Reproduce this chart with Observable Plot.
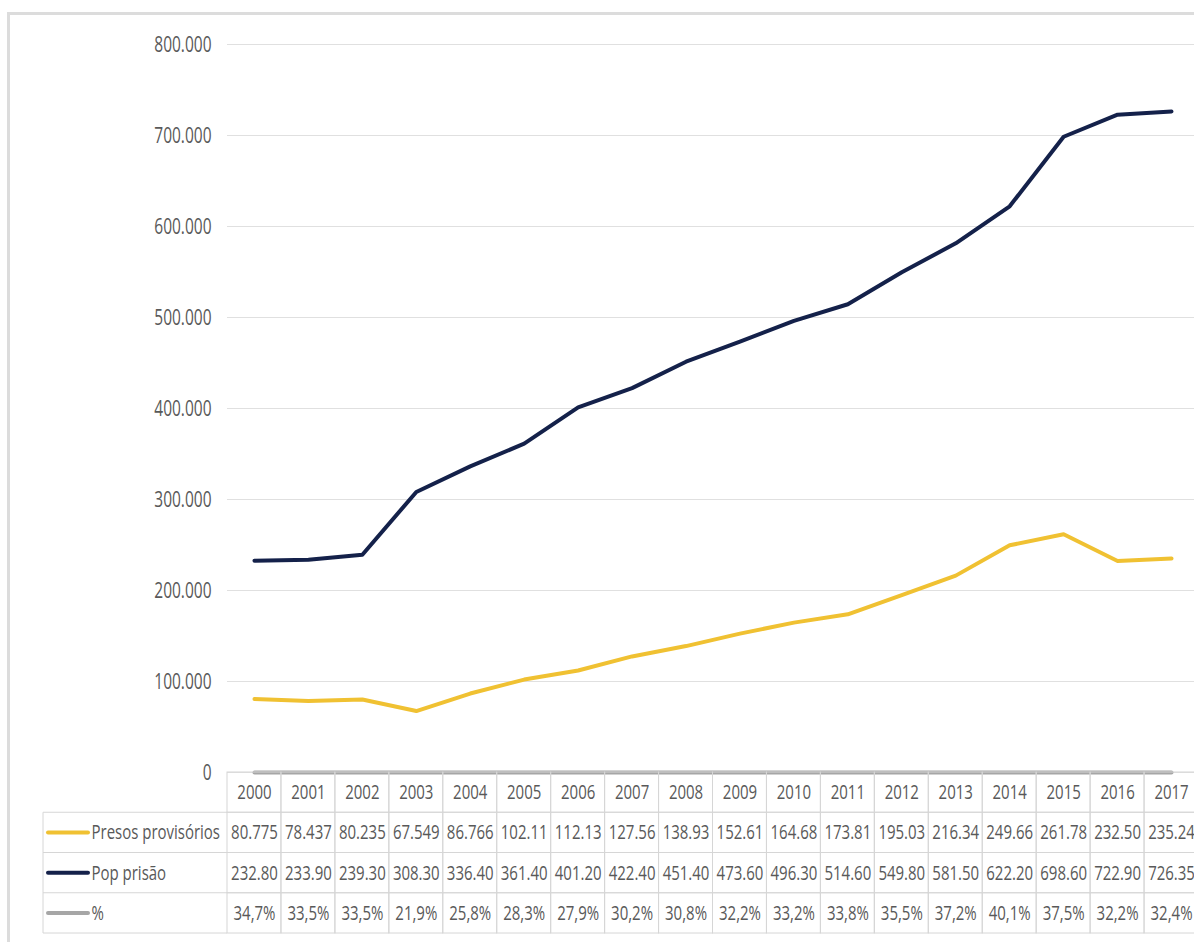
<!DOCTYPE html>
<html><head><meta charset="utf-8">
<script src="https://cdn.jsdelivr.net/npm/d3@7"></script>
<script src="https://cdn.jsdelivr.net/npm/@observablehq/plot@0.6"></script>
<style>
html,body{margin:0;padding:0;overflow:hidden;background:#fff;width:1194px;height:942px;}
#frame{position:absolute;left:7px;top:12px;width:1300px;height:1000px;border:3px solid #dcdcdc;box-sizing:border-box}
#chart{position:absolute;left:0;top:0}
#table{position:absolute;left:0;top:772px}
svg{overflow:visible}
</style></head><body>
<div id="frame"></div><div id="chart"></div><div id="table"></div>
<script>
const years = ["2000","2001","2002","2003","2004","2005","2006","2007","2008","2009","2010","2011","2012","2013","2014","2015","2016","2017"];
const presos = [80775, 78437, 80235, 67549, 86766, 102110, 112130, 127560, 138930, 152610, 164680, 173810, 195030, 216340, 249660, 261780, 232500, 235240];
const pop = [232800, 233900, 239300, 308300, 336400, 361400, 401200, 422400, 451400, 473600, 496300, 514600, 549800, 581500, 622200, 698600, 722900, 726350];
const pct = [0.347, 0.335, 0.335, 0.219, 0.258, 0.283, 0.279, 0.302, 0.308, 0.322, 0.332, 0.338, 0.355, 0.372, 0.401, 0.375, 0.322, 0.324];
const seriesNames = ["Presos provisórios", "Pop prisão", "%"];
const seriesColors = ["#f0c132", "#14214a", "#a6a6a6"];
const yTicks = [0, 100000, 200000, 300000, 400000, 500000, 600000, 700000, 800000];

const FONT = '"Open Sans", "Noto Sans", sans-serif';
const TEXT = "#595959";
const fmtThousands = d => d3.format(",")(d).replace(/,/g, ".");
const fmtShort = v => fmtThousands(v).slice(0, 6);
const fmtPct = v => d3.format(".1f")(v * 100).replace(".", ",") + "%";

const rows = years.map((y, i) => ({year: y, presos: presos[i], pop: pop[i], pct: pct[i]}));

const chart = Plot.plot({
  width: 1230, height: 780,
  marginLeft: 227, marginRight: 32, marginTop: 44, marginBottom: 8,
  style: {fontFamily: FONT, fontSize: "15.5px", color: TEXT, background: "transparent", maxWidth: "none"},
  x: {type: "band", domain: years, padding: 0, round: false, axis: null},
  y: {domain: [0, 800000], ticks: yTicks, tickFormat: fmtThousands, tickSize: 0, tickPadding: 16, label: null},
  marks: [
    Plot.ruleY(yTicks, {stroke: "#e0e0e0", strokeWidth: 1}),
    Plot.line(rows, {x: "year", y: "pct", stroke: seriesColors[2], strokeWidth: 4, strokeLinecap: "round", strokeLinejoin: "round"}),
    Plot.line(rows, {x: "year", y: "presos", stroke: seriesColors[0], strokeWidth: 4, strokeLinecap: "round", strokeLinejoin: "round"}),
    Plot.line(rows, {x: "year", y: "pop", stroke: seriesColors[1], strokeWidth: 4, strokeLinecap: "round", strokeLinejoin: "round"})
  ]
});
document.getElementById("chart").append(chart);

const rowKeys = ["year", ...seriesNames];
const cells = [];
years.forEach((y, i) => {
  cells.push({year: y, row: "year", text: y});
  cells.push({year: y, row: seriesNames[0], text: fmtShort(presos[i])});
  cells.push({year: y, row: seriesNames[1], text: fmtShort(pop[i])});
  cells.push({year: y, row: seriesNames[2], text: fmtPct(pct[i])});
});

const table = Plot.plot({
  width: 1230, height: 162,
  marginLeft: 227, marginRight: 32, marginTop: 0, marginBottom: 1,
  style: {fontFamily: FONT, fontSize: "15px", color: TEXT, background: "transparent", maxWidth: "none"},
  x: {type: "band", domain: years, padding: 0, round: false, axis: null},
  y: {type: "band", domain: rowKeys, padding: 0, round: false, axis: null},
  marks: [
    Plot.cell(cells, {x: "year", y: "row", fill: "none", stroke: "#d6d6d6", inset: 0}),
    Plot.text(cells, {x: "year", y: "row", text: "text", fill: TEXT}),
    Plot.text(seriesNames, {y: d => d, text: d => d, frameAnchor: "left", dx: -136, textAnchor: "start", fill: TEXT}),
    (index, scales, values, dims) => {
      const y = scales.y;
      const bw = y.bandwidth();
      const ml = dims.marginLeft;
      const g = d3.create("svg:g");
      const top0 = y(seriesNames[0]);
      g.append("line").attr("x1", 43).attr("x2", ml).attr("y1", top0).attr("y2", top0).attr("stroke", "#d6d6d6");
      seriesNames.forEach((name, i) => {
        const t = y(name), b = t + bw;
        g.append("line").attr("x1", 43).attr("x2", ml).attr("y1", b).attr("y2", b).attr("stroke", "#d6d6d6");
        g.append("line").attr("x1", 48).attr("x2", 88).attr("y1", t + bw / 2).attr("y2", t + bw / 2)
          .attr("stroke", seriesColors[i]).attr("stroke-width", 4).attr("stroke-linecap", "round");
      });
      g.append("line").attr("x1", 43).attr("x2", 43).attr("y1", top0).attr("y2", y(seriesNames[2]) + bw).attr("stroke", "#d6d6d6");
      return g.node();
    }
  ]
});
document.getElementById("table").append(table);

// Emulate the tall, narrow lettering of the original chart: stretch each text vertically about its own centre
function stretch(svg, s) {
  svg.querySelectorAll("text").forEach(t => {
    const b = t.getBBox();
    if (!b.height) return;
    const cy = b.y + b.height / 2;
    const prev = t.getAttribute("transform") || "";
    t.setAttribute("transform", `${prev} translate(0,${cy.toFixed(2)}) scale(1,${s}) translate(0,${(-cy).toFixed(2)})`.trim());
  });
}
stretch(chart, 1.42);
stretch(table, 1.3);
</script>
</body></html>
